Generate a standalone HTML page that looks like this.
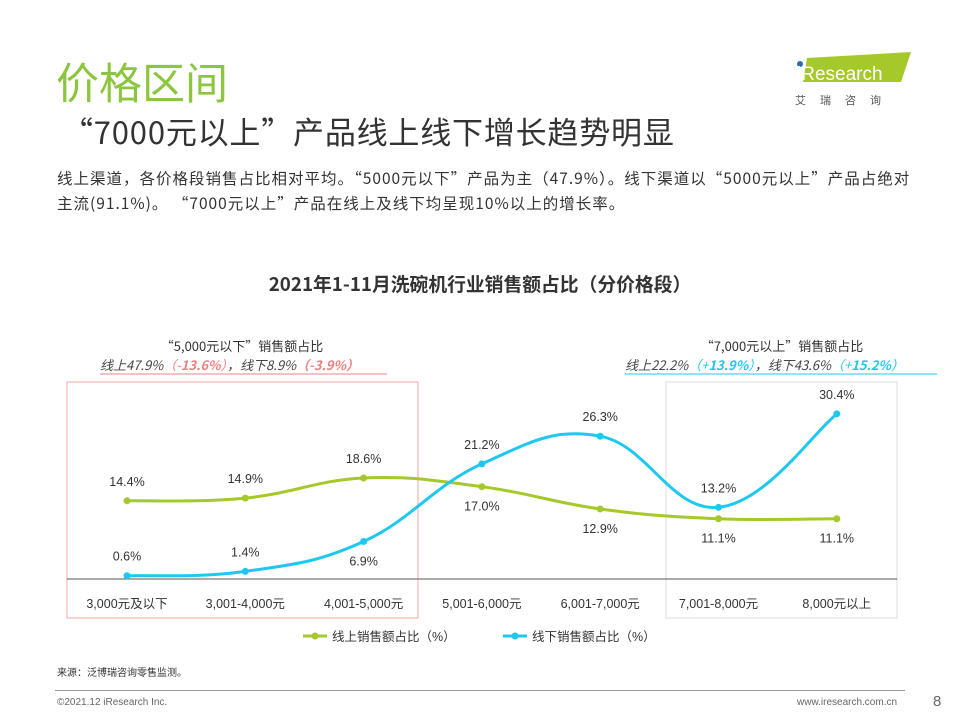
<!DOCTYPE html>
<html><head><meta charset="utf-8">
<style>
body{margin:0;width:960px;height:720px;background:#fff;font-family:"Liberation Sans","Noto Sans CJK SC",sans-serif;position:relative;overflow:hidden;color:#333}
.abs{position:absolute;white-space:nowrap}
.cjk{font-family:"Noto Sans CJK SC","Liberation Sans",sans-serif}
</style></head><body>
<div class="abs" style="left:56px;top:50px;font-size:43px;color:#8cc63f">价格区间</div>
<div class="abs cjk" style="left:62px;top:108px;font-size:31px;letter-spacing:0.8px;color:#333">“7000元以上”产品线上线下增长趋势明显</div>
<div class="abs cjk" style="left:57px;top:166px;font-size:15.5px;line-height:25px;letter-spacing:1px;color:#333">线上渠道，各价格段销售占比相对平均。“5000元以下”产品为主（47.9%）。线下渠道以“5000元以上”产品占绝对<br>主流(91.1%)。 “7000元以上”产品在线上及线下均呈现10%以上的增长率。</div>
<div class="abs" style="left:793px;top:50px;width:120px;height:60px">
<svg width="120" height="60"><polygon points="14,8 118,2 108,32 10,32" fill="#a5c92b"/><circle cx="7" cy="14" r="3" fill="#2a6db5"/><text x="4" y="30" font-size="19" fill="#fff" font-family="Liberation Sans">iResearch</text><text x="2" y="54" font-size="11" fill="#555" letter-spacing="14" font-family="Noto Sans CJK SC">艾瑞咨询</text></svg></div>
<svg class="abs" style="left:0;top:0" width="960" height="720" id="chart">
<text x="480" y="291" text-anchor="middle" font-size="18.8" font-weight="bold" fill="#333" font-family="Noto Sans CJK SC, Liberation Sans, sans-serif">2021年1-11月洗碗机行业销售额占比（分价格段）</text>
<rect x="67" y="382" width="351" height="236" fill="none" stroke="#f4a6a6"/>
<rect x="666" y="382" width="231" height="236" fill="none" stroke="#ddd"/>
<line x1="67" y1="579" x2="897" y2="579" stroke="#555"/>
<g font-family="Noto Sans CJK SC, Liberation Sans, sans-serif">
<text x="242" y="351" text-anchor="middle" font-size="13" fill="#333">“5,000元以下”销售额占比</text>
<text x="100" y="370" font-size="13" font-style="italic" fill="#444">线上47.9%<tspan fill="#f08080">（-<tspan font-weight="bold">13.6%</tspan>）</tspan>，线下8.9%<tspan fill="#f08080" font-weight="bold">（-3.9%）</tspan></text>
<text x="782" y="351" text-anchor="middle" font-size="13" fill="#333">“7,000元以上”销售额占比</text>
<text x="625" y="370" font-size="13" font-style="italic" fill="#444">线上22.2%<tspan fill="#1fc8f0">（+<tspan font-weight="bold">13.9%</tspan>）</tspan>，线下43.6%<tspan fill="#1fc8f0">（+<tspan font-weight="bold">15.2%</tspan>）</tspan></text>
</g>
<line x1="100" y1="374" x2="387" y2="374" stroke="#f08080"/>
<line x1="625" y1="374" x2="937" y2="374" stroke="#1fc8f0"/>
<g id="plot"></g>
<g>
<line x1="303" y1="636" x2="327" y2="636" stroke="#a5c92b" stroke-width="3"/><circle cx="315" cy="636" r="3.5" fill="#a5c92b"/>
<text x="332" y="641" font-size="12.5" fill="#333">线上销售额占比（%）</text>
<line x1="503" y1="636" x2="527" y2="636" stroke="#1fc8f0" stroke-width="3"/><circle cx="515" cy="636" r="3.5" fill="#1fc8f0"/>
<text x="532" y="641" font-size="12.5" fill="#333">线下销售额占比（%）</text></g>
</svg>
<div class="abs" style="left:57px;top:664px;font-size:10px;color:#333">来源：泛博瑞咨询零售监测。</div>
<div class="abs" style="left:55px;top:690px;width:850px;border-top:1px solid #999"></div>
<div class="abs" style="left:57px;top:697px;font-size:10px;color:#666">©2021.12 iResearch Inc.</div>
<div class="abs" style="left:797px;top:697px;font-size:10px;color:#666">www.iresearch.com.cn</div>
<div class="abs" style="left:933px;top:693px;font-size:15px;color:#666">8</div>
<script>
const categories=["3,000元及以下","3,001-4,000元","4,001-5,000元","5,001-6,000元","6,001-7,000元","7,001-8,000元","8,000元以上"];
const online=[14.4,14.9,18.6,17.0,12.9,11.1,11.1];
const offline=[0.6,1.4,6.9,21.2,26.3,13.2,30.4];
const onlineLabelAbove=[true,true,true,false,false,false,false];
const offlineLabelAbove=[true,true,false,true,true,true,true];
const x=i=>127+i*118.3;
const y=v=>579-v*5.43;
const g=document.getElementById('plot');
const NS='http://www.w3.org/2000/svg';
function mk(t,a){const e=document.createElementNS(NS,t);for(const k in a)e.setAttribute(k,a[k]);g.appendChild(e);return e;}
categories.forEach((c,i)=>{const t=mk('text',{x:x(i),y:608,'text-anchor':'middle','font-size':12.5,fill:'#333'});t.textContent=c;

});
function path(vals){const p=vals.map((v,i)=>[x(i),y(v)]);let d=`M${p[0][0]},${p[0][1]}`;
for(let i=0;i<p.length-1;i++){const p0=p[i-1]||p[i],p1=p[i],p2=p[i+1],p3=p[i+2]||p2;const t=0.2;
d+=` C${p1[0]+(p2[0]-p0[0])*t},${p1[1]+(p2[1]-p0[1])*t} ${p2[0]-(p3[0]-p1[0])*t},${p2[1]-(p3[1]-p1[1])*t} ${p2[0]},${p2[1]}`;}return d;}
function series(vals,col,above,name){const l=mk('path',{d:path(vals),fill:'none',stroke:col,'stroke-width':3});


vals.forEach((v,i)=>{const c=mk('circle',{cx:x(i),cy:y(v),r:3.5,fill:col});


const t=mk('text',{x:x(i),y:above[i]?y(v)-15:y(v)+24,'text-anchor':'middle','font-size':12.5,fill:'#333'});t.textContent=v.toFixed(1)+'%';

});}
series(online,'#a5c92b',onlineLabelAbove,'online');
series(offline,'#1fc8f0',offlineLabelAbove,'offline');
</script>
</body></html>
